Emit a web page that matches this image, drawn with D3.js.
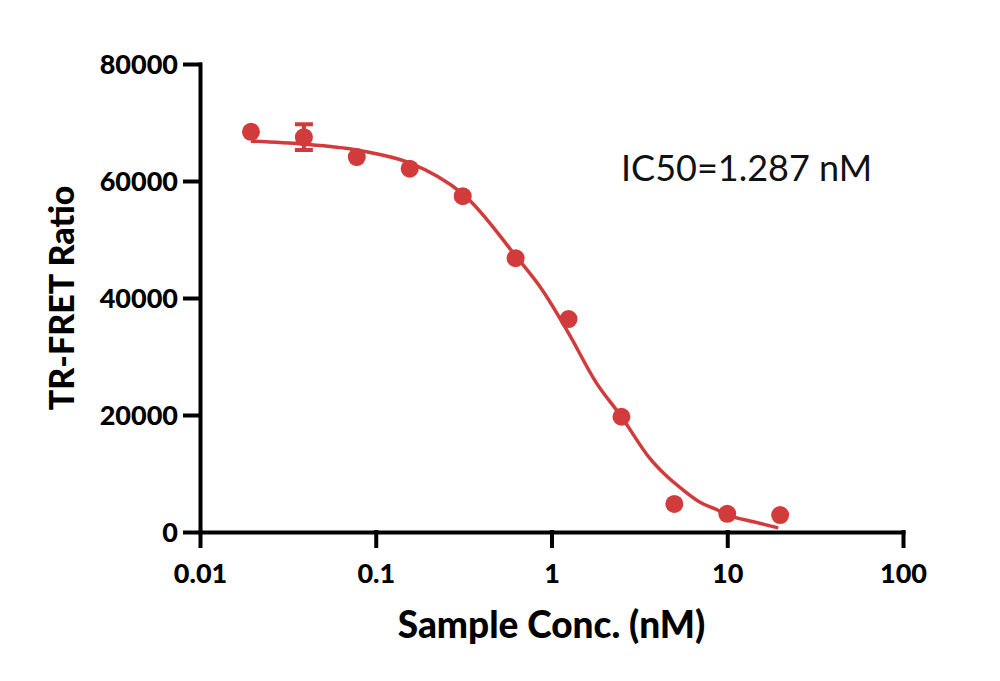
<!DOCTYPE html>
<html>
<head>
<meta charset="utf-8">
<script src="https://cdn.jsdelivr.net/npm/d3@7"></script>
<style>
  body { margin: 0; background: #fff; }
  svg text { font-family: Lato, "Open Sans", sans-serif; }
</style>
</head>
<body>
<div id="chart"></div>
<script>
// measured points (2-fold dilution series)
const conc = [0.0195, 0.039, 0.078, 0.156, 0.3125, 0.625, 1.25, 2.5, 5, 10, 20]
const ratio = [68400, 67500, 64100, 62100, 57400, 46800, 36400, 19700, 4800, 3100, 2900]
const ratioErr = [0, 2200, 0, 0, 0, 0, 0, 0, 0, 0, 0]

// fitted curve
const fitConc = [0.0195, 0.039, 0.078, 0.156, 0.3125, 0.625, 0.88, 1.25, 1.8, 2.5, 3.6, 4.5, 5.6, 7, 8.75, 10, 14.3, 19.5]
const fitRatio = [66800, 66300, 65300, 63100, 57800, 47200, 41500, 34000, 25500, 19700, 12700, 9600, 7200, 5100, 3800, 2900, 1700, 700]

const xTicks = [0.01, 0.1, 1, 10, 100]
const yTicks = [0, 20000, 40000, 60000, 80000]
const ic50Label = "IC50=1.287 nM"

const WIDTH = 1000, HEIGHT = 681
const MARGIN = { TOP: 64, BOTTOM: 149, LEFT: 200, RIGHT: 97 }
const RED = "#d13b3b"

const svg = d3.select("#chart").append("svg")
    .attr("width", WIDTH)
    .attr("height", HEIGHT)

const x = d3.scaleLog()
    .domain([0.01, 100])
    .range([MARGIN.LEFT, WIDTH - MARGIN.RIGHT])

const y = d3.scaleLinear()
    .domain([0, 80000])
    .range([HEIGHT - MARGIN.BOTTOM, MARGIN.TOP])

const xAxisCall = d3.axisBottom(x)
    .tickValues(xTicks)
    .tickFormat(d => d3.format("~g")(d))
    .tickSize(14)
    .tickSizeOuter(0)
    .tickPadding(18)

const yAxisCall = d3.axisLeft(y)
    .tickValues(yTicks)
    .tickFormat(d => d)
    .tickSize(15)
    .tickSizeOuter(0)
    .tickPadding(7)

const xAxisGroup = svg.append("g")
    .attr("transform", `translate(0, ${y(0)})`)
    .call(xAxisCall)

const yAxisGroup = svg.append("g")
    .attr("transform", `translate(${x(0.01)}, 0)`)
    .call(yAxisCall)

svg.selectAll(".domain, .tick line")
    .attr("stroke", "#000")
    .attr("stroke-width", 4)
    .attr("stroke-linecap", "square")

svg.selectAll(".tick text")
    .attr("fill", "#000")
    .attr("font-size", 27)
    .attr("font-weight", "900")

yAxisGroup.selectAll(".tick text").attr("dy", "0.36em")
xAxisGroup.selectAll(".tick text").attr("dy", "0.71em")

// axis titles
svg.append("text")
    .attr("x", (x.range()[0] + x.range()[1]) / 2)
    .attr("y", 638)
    .attr("text-anchor", "middle")
    .attr("font-size", 37)
    .attr("font-weight", "900")
    .text("Sample Conc. (nM)")

svg.append("text")
    .attr("transform", `translate(74, ${(y.range()[0] + y.range()[1]) / 2}) rotate(-90)`)
    .attr("text-anchor", "middle")
    .attr("font-size", 34)
    .attr("font-weight", "900")
    .text("TR-FRET Ratio")

// IC50 note
svg.append("text")
    .attr("x", 621)
    .attr("y", 181)
    .attr("font-size", 36)
    .attr("fill", "#111")
    .text(ic50Label)

// fitted curve
const fit = fitConc.map((c, i) => [c, fitRatio[i]])
const line = d3.line()
    .x(d => x(d[0]))
    .y(d => y(d[1]))
    .curve(d3.curveCatmullRom.alpha(0.5))

svg.append("path")
    .datum(fit)
    .attr("fill", "none")
    .attr("stroke", RED)
    .attr("stroke-width", 3.5)
    .attr("d", line)

const points = conc.map((c, i) => ({ c: c, v: ratio[i], e: ratioErr[i] }))

// error bars
const bars = svg.selectAll(".err")
    .data(points.filter(d => d.e > 0))
    .enter().append("g")
    .attr("class", "err")
    .attr("stroke", RED)
    .attr("stroke-width", 4)

bars.append("line")
    .attr("x1", d => x(d.c)).attr("x2", d => x(d.c))
    .attr("y1", d => y(d.v + d.e)).attr("y2", d => y(d.v - d.e))
bars.append("line")
    .attr("x1", d => x(d.c) - 9).attr("x2", d => x(d.c) + 9)
    .attr("y1", d => y(d.v + d.e)).attr("y2", d => y(d.v + d.e))
bars.append("line")
    .attr("x1", d => x(d.c) - 9).attr("x2", d => x(d.c) + 9)
    .attr("y1", d => y(d.v - d.e)).attr("y2", d => y(d.v - d.e))

// dots
svg.selectAll("circle")
    .data(points)
    .enter().append("circle")
    .attr("cx", d => x(d.c))
    .attr("cy", d => y(d.v))
    .attr("r", 9)
    .attr("fill", RED)
</script>
</body>
</html>
